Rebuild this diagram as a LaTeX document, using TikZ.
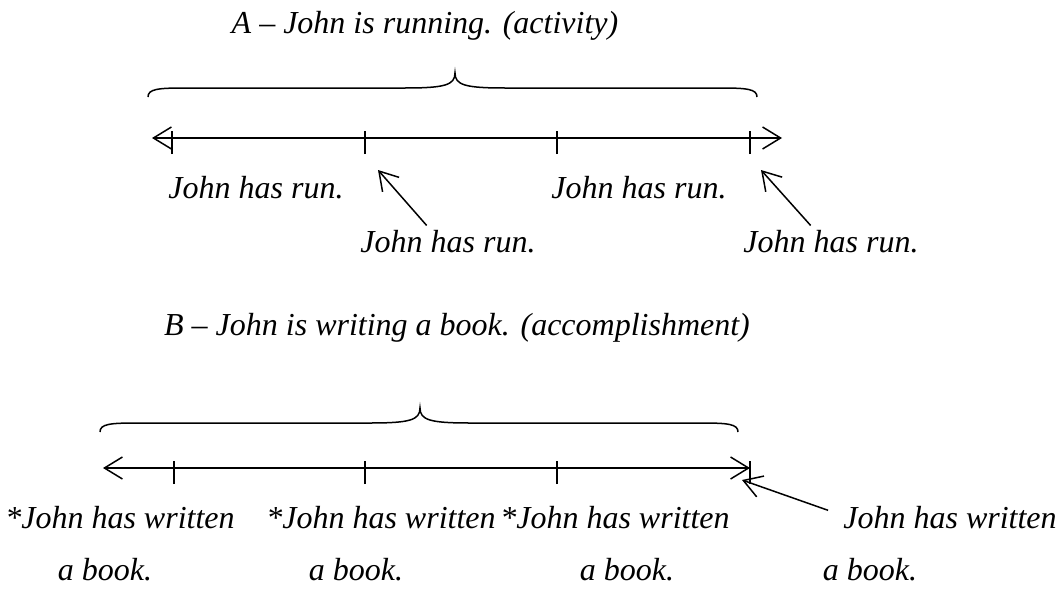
\documentclass[tikz,border=0pt]{standalone}
\usepackage{fontspec}
\setmainfont{Liberation Serif}
\usetikzlibrary{arrows.meta}
\begin{document}
\begin{tikzpicture}[x=1pt,y=-1pt,line width=1.5pt,
  lbl/.style={font=\fontsize{32}{38}\selectfont\itshape, inner sep=0pt, anchor=base},
  tip/.tip={Straight Barb[length=18pt,width=22pt,line width=1.5pt]},
  ptr/.style={-tip, shorten <=2pt},
  tick/.style={line width=1.5pt}]
\useasboundingbox (0,0) rectangle (1063,589);
% ---------- A ----------
\node[lbl] (tA) at (425,33) {A – John is running. (activity)};
\draw (148,97) .. controls (148,89) and (158,88) .. (185,88) -- (405,88)
  .. controls (445,88) and (455,85) .. (455,73)
  .. controls (455,85) and (465,88) .. (505,88) -- (720,88)
  .. controls (747,88) and (757,89) .. (757,97);
\coordinate (aL) at (152,138); \coordinate (aR) at (782,138);
\coordinate (a1) at (172,138); \coordinate (a2) at (365,138);
\coordinate (a3) at (557,138); \coordinate (a4) at (750,138);
\draw[tip-tip] (aL) -- (aR);
\foreach \t in {a1,a2,a3,a4} \draw[tick] ([yshift=-16pt]\t) -- ([yshift=7pt]\t);
\node[lbl] (r1) at (256,198) {John has run.};
\node[lbl] (r2) at (639,198) {John has run.};
\node[lbl] (r3) at (448,252) {John has run.};
\node[lbl] (r4) at (831,252) {John has run.};
\coordinate (p2) at (378,170); \coordinate (p4) at (761,170);
\draw[ptr] (428,227) -- (p2);
\draw[ptr] (812,227) -- (p4);
% ---------- B ----------
\node[lbl] (tB) at (457,335) {B – John is writing a book. (accomplishment)};
\draw (100,432) .. controls (100,424) and (110,423) .. (137,423) -- (370,423)
  .. controls (410,423) and (420,420) .. (420,408)
  .. controls (420,420) and (430,423) .. (470,423) -- (701,423)
  .. controls (728,423) and (738,424) .. (738,432);
\coordinate (bL) at (103,468); \coordinate (bR) at (750,468);
\coordinate (b1) at (174,468); \coordinate (b2) at (365,468);
\coordinate (b3) at (557,468); \coordinate (b4) at (750,468);
\draw[tip-tip] (bL) -- (bR);
\foreach \t in {b1,b2,b3,b4} \draw[tick] ([yshift=-16pt]\t) -- ([yshift=7pt]\t);
\node[lbl] (w1) at (120,528) {*John has written};
\node[lbl] (w2) at (381,528) {*John has written};
\node[lbl] (w3) at (615,528) {*John has written};
\node[lbl] (w4) at (950,528) {John has written};
\node[lbl] (k1) at (105,580) {a book.};
\node[lbl] (k2) at (356,580) {a book.};
\node[lbl] (k3) at (627,580) {a book.};
\node[lbl] (k4) at (870,580) {a book.};
\coordinate (pB) at (742,480);
\draw[ptr] (830,511) -- (pB);
\end{tikzpicture}
\end{document}
